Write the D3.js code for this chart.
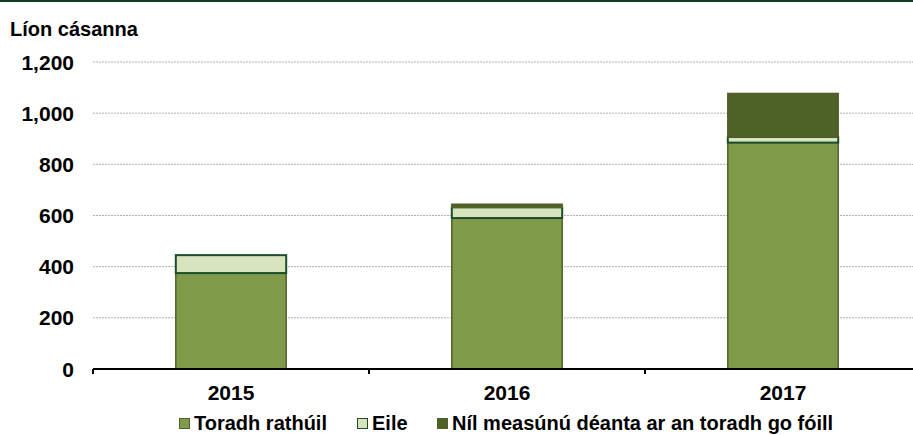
<!DOCTYPE html>
<html>
<head>
<meta charset="utf-8">
<script src="https://cdn.jsdelivr.net/npm/d3@7"></script>
<style>
  body { margin: 0; background: #fff; }
  svg { display: block; font-family: "Liberation Sans", Arial, sans-serif; font-weight: bold; }
</style>
</head>
<body>
<script>
// chart data
const years = ['2015', '2016', '2017'];
const successful = [375, 590, 885];
const other = [70, 42, 22];
const notAssessed = [0, 12, 170];
const seriesNames = ['Toradh rathúil', 'Eile', 'Níl measúnú déanta ar an toradh go fóill'];
const yTicks = [0, 200, 400, 600, 800, 1000, 1200];

const width = 913, height = 435;
const colors = ['#7f9a48', '#d7e4bd', '#4f6228'];
const strokes = ['#4f6228', '#1e4d2b', '#4f6228'];

const svg = d3.select('body').append('svg')
    .attr('width', width)
    .attr('height', height);

// top rule
svg.append('rect')
    .attr('x', 0).attr('y', 0)
    .attr('width', width).attr('height', 2)
    .attr('fill', '#0f3d1e');

const x = d3.scaleBand()
    .domain(years)
    .range([93, 921])
    .paddingInner(0.6)
    .paddingOuter(0.3);

const y = d3.scaleLinear()
    .domain([0, 1200])
    .range([369, 62]);

// gridlines
svg.append('g')
    .selectAll('line')
    .data(yTicks.filter(d => d > 0))
    .enter()
    .append('line')
    .attr('x1', 93)
    .attr('x2', width)
    .attr('y1', d => y(d))
    .attr('y2', d => y(d))
    .attr('stroke', '#b0b0b0')
    .attr('stroke-width', 1)
    .attr('stroke-dasharray', '2,1');

// y tick labels
svg.append('g')
    .selectAll('text')
    .data(yTicks)
    .enter()
    .append('text')
    .attr('x', 74)
    .attr('y', d => y(d))
    .attr('dy', '0.36em')
    .attr('text-anchor', 'end')
    .attr('font-size', 21)
    .attr('fill', '#000')
    .text(d => d3.format(',')(d));

svg.append('text')
    .attr('x', 10)
    .attr('y', 36)
    .attr('font-size', 20)
    .attr('fill', '#000')
    .text('Líon cásanna');

// stacked bars
const table = years.map((yr, i) => ({ year: yr, s0: successful[i], s1: other[i], s2: notAssessed[i] }));
const stack = d3.stack().keys(['s0', 's1', 's2']);
const layers = stack(table);

layers.forEach((layer, k) => {
    svg.append('g')
        .selectAll('rect')
        .data(layer.filter(d => d[1] > d[0]))
        .enter()
        .append('rect')
        .attr('x', d => x(d.data.year))
        .attr('y', d => y(d[1]))
        .attr('width', x.bandwidth())
        .attr('height', d => y(d[0]) - y(d[1]))
        .attr('fill', colors[k])
        .attr('stroke', strokes[k])
        .attr('stroke-width', k === 1 ? 2 : 1.5);
});

// x axis
const xAxis = svg.append('g')
    .attr('transform', `translate(0,${y(0)})`);
xAxis.append('line')
    .attr('x1', 93).attr('x2', width)
    .attr('stroke', '#000').attr('stroke-width', 2);
xAxis.selectAll('.tick')
    .data([0, 1, 2])
    .enter()
    .append('line')
    .attr('x1', i => x.step() * i + 93)
    .attr('x2', i => x.step() * i + 93)
    .attr('y1', 0).attr('y2', 5)
    .attr('stroke', '#000').attr('stroke-width', 2);
xAxis.selectAll('text')
    .data(years)
    .enter()
    .append('text')
    .attr('x', d => x(d) + x.bandwidth() / 2)
    .attr('y', 31)
    .attr('text-anchor', 'middle')
    .attr('font-size', 21)
    .attr('fill', '#000')
    .text(d => d);

// legend
const legendX = [179, 357, 437];
const legend = svg.append('g')
    .attr('transform', 'translate(0,430)');
seriesNames.forEach((name, k) => {
    legend.append('rect')
        .attr('x', legendX[k] + 0.5)
        .attr('y', -11.5)
        .attr('width', 10).attr('height', 10)
        .attr('fill', colors[k])
        .attr('stroke', strokes[k])
        .attr('stroke-width', 1);
    legend.append('text')
        .attr('x', legendX[k] + 15)
        .attr('y', 0)
        .attr('font-size', 20)
        .attr('fill', '#000')
        .text(name);
});
</script>
</body>
</html>
